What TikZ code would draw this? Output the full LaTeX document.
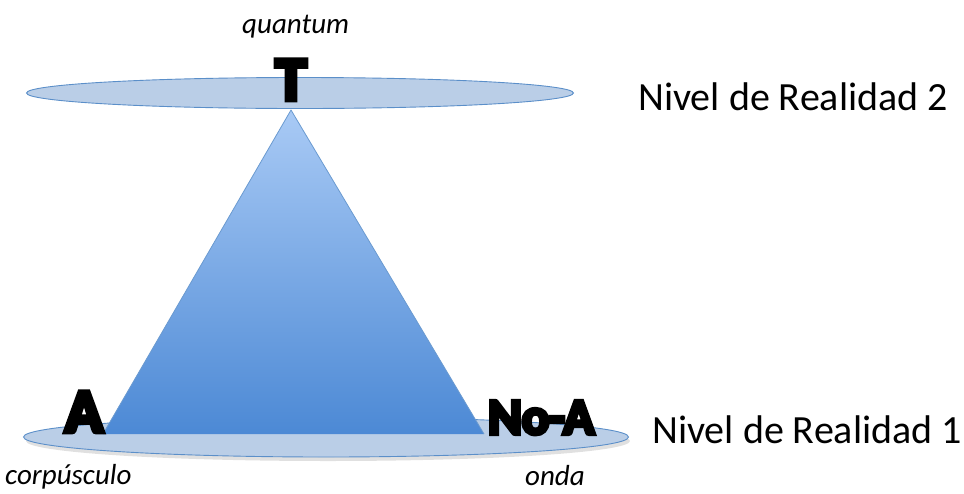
\documentclass[tikz,border=0pt]{standalone}
\usepackage{fontspec}
\setmainfont{Carlito}
\newfontfamily\heavyfont[FakeBold=8]{Carlito Bold}
\usetikzlibrary{shapes.geometric}
\definecolor{ellfill}{HTML}{BACEE7}
\definecolor{ellline}{HTML}{5B8FC9}
\definecolor{tritop}{HTML}{A9CAF5}
\definecolor{tribot}{HTML}{4C89D5}
\definecolor{triline}{HTML}{6A9AD0}
\tikzset{
  level/.style={ellipse, draw=ellline, fill=ellfill, line width=0.9pt, inner sep=0pt},
  bigletter/.style={inner sep=0pt, font=\heavyfont\fontsize{62}{62}\selectfont},
  midletter/.style={inner sep=0pt, font=\heavyfont\fontsize{51}{51}\selectfont},
  levellabel/.style={inner sep=0pt, anchor=base west, font=\fontsize{40}{40}\selectfont},
  tag/.style={inner sep=0pt, anchor=base west, font=\itshape\fontsize{29}{29}\selectfont}
}
\begin{document}
\begin{tikzpicture}[x=1pt,y=-1pt]
\useasboundingbox (0,0) rectangle (964,493);
% soft shadow under bottom level
\fill[black!12] (328,441) ellipse [x radius=302pt, y radius=20pt];
% bottom level
\node[level, minimum width=605pt, minimum height=40pt] (lvl1) at (326,437) {};
% top level
\node[level, minimum width=547pt, minimum height=31pt] (lvl2) at (300,93) {};
% triangle
\coordinate (apex) at (291,110);
\coordinate (bl) at (103,434);
\coordinate (br) at (484,434);
\shade[top color=tritop, bottom color=tribot] (apex) -- (bl) -- (br) -- cycle;
\draw[triline, line width=0.8pt, line join=round] (bl) -- (apex) -- (br);
% letters
\node[bigletter, anchor=base] (T) at (291,100) {T};
\node[bigletter, anchor=base west] (A) at (65,432) {A};
\node[midletter, anchor=base west] (NoA) at (488,434) {No-A};
% labels
\node[tag] (quantum) at (242,33) {quantum};
\node[tag] (corp) at (5,484) {corpúsculo};
\node[tag] (onda) at (525,485) {onda};
\node[levellabel] (n2) at (638,110) {Nivel de Realidad 2};
\node[levellabel] (n1) at (652,443) {Nivel de Realidad 1};
\end{tikzpicture}
\end{document}
